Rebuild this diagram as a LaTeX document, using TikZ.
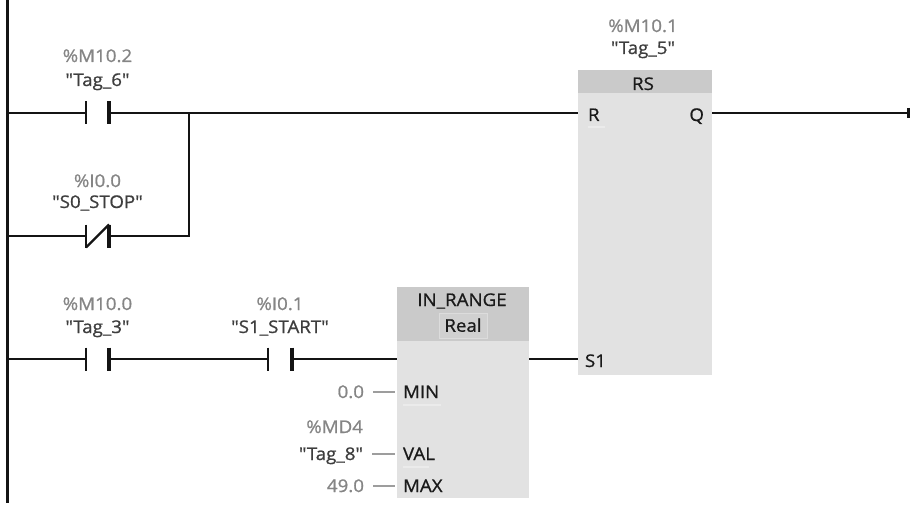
\documentclass[tikz,border=0pt]{standalone}
\usepackage{fontspec}
\newfontfamily\plcfont{Open Sans}[FakeBold=0.9, FakeStretch=1.07]
\usetikzlibrary{calc,positioning}

\definecolor{addrgray}{HTML}{858585}
\definecolor{taggray}{HTML}{3E3E3E}
\definecolor{pinblack}{HTML}{1A1A1A}
\definecolor{wireblack}{HTML}{141414}
\definecolor{fbbody}{HTML}{E2E2E2}
\definecolor{fbhead}{HTML}{CACACA}
\definecolor{realfill}{HTML}{D0D0D0}
\definecolor{realedge}{HTML}{DCDCDC}

\tikzset{
  rail/.style={line width=3, color=wireblack},
  wire/.style={line width=2.4, color=wireblack},
  plate/.style={line width=2.2, color=wireblack},
  contact/.style={minimum width=23, minimum height=23, inner sep=0, outer sep=0},
  fb/.style={fill=fbbody, anchor=north west, inner sep=0, outer sep=0},
  txt/.style={font=\plcfont\fontsize{17.5}{20}\selectfont, inner sep=0, outer sep=0},
  addr/.style={txt, text=addrgray, anchor=base},
  tag/.style={txt, text=taggray, anchor=base},
  pin/.style={txt, text=pinblack},
  param/.style={line width=1.4, color=addrgray!80},
  hint/.style={line width=1.5, color=white!92!black},
}

\begin{document}
\begin{tikzpicture}[x=1pt, y=-1pt]
			%%%%% START %%%%%
			\useasboundingbox[fill=white] (0,0) rectangle (912,505);
			
			\coordinate (railtop) at (7,0);
			\coordinate (railbot) at (7,503);
			\draw[rail] (railtop) -- (railbot);
			
			\coordinate (r1) at (7,113);
			\coordinate (r2) at (7,236);
			\coordinate (r3) at (7,359);
			
			%%%%% BLOCKS %%%%%
			\node[fb, minimum width=134, minimum height=305] (rs) at (578,70) {};
			\fill[fbhead] (rs.north west) rectangle ([yshift=-23]rs.north east);
			\node[fb, minimum width=132, minimum height=211] (inr) at (397,287) {};
			\fill[fbhead] (inr.north west) rectangle ([yshift=-54]inr.north east);
			
			\coordinate (rsR) at (rs.west |- r1);
			\coordinate (rsS) at (rs.west |- r3);
			\coordinate (rsQ) at (rs.east |- r1);
			\coordinate (inrEN) at (inr.west |- r3);
			\coordinate (inrOUT) at (inr.east |- r3);
			\coordinate (qend) at (908,113);
			
			%%%%% CONTACTS %%%%%
			\node[contact] (c1) at (97.5,113) {};
			\node[contact] (c2) at (97.5,236) {};
			\node[contact] (c3) at (97.5,359) {};
			\node[contact, minimum width=24] (c4) at (280,359) {};
			
			\foreach \c in {c1,c2,c3,c4} {
				\draw[plate] (\c.north west) -- (\c.south west);
				\draw[plate, line width=3.2] (\c.north east) -- (\c.south east);
			}
			\draw[plate] (c2.south west) -- (c2.north east);
			
			\coordinate (j1) at (189,113);
			\coordinate (j2) at (j1 |- r2);
			
			%%%%% WIRES %%%%%
			\draw[wire] (r1) -- (c1.west);
			\draw[wire] (c1.east) -- (rsR);
			\draw[wire] (r2) -- (c2.west);
			\draw[wire, line join=miter] (c2.east) -- (j2) -- (j1);
			\draw[wire] (r3) -- (c3.west);
			\draw[wire] (c3.east) -- (c4.west);
			\draw[wire] (c4.east) -- (inrEN);
			\draw[wire] (inrOUT) -- (rsS);
			\draw[wire, line width=2.1] (rsQ) -- (qend);
			\draw[line width=3, color=wireblack] ([yshift=5]qend) -- ([yshift=-5]qend);
			
			%%%%% LABELS %%%%%
			\node[addr] (c1addr) at (97.5,62) {\%M10.2};
			\node[tag] (c1tag) at (97.5,86) {"Tag\_6"};
			\node[addr] (c2addr) at (97.5,187) {\%I0.0};
			\node[tag] (c2tag) at (97.5,208) {"S0\_STOP"};
			\node[addr] (c3addr) at (97.5,310) {\%M10.0};
			\node[tag] (c3tag) at (97.5,333) {"Tag\_3"};
			\node[addr] (c4addr) at (280,310) {\%I0.1};
			\node[tag] (c4tag) at (280,333) {"S1\_START"};
			
			\node[addr] (rsaddr) at (643,32) {\%M10.1};
			\node[tag] (rstag) at (643,54) {"Tag\_5"};
			\node[pin, anchor=base] (rstitle) at (643,90) {RS};
			\node[pin, anchor=base west] (pR) at (588,121) {R};
			\node[pin, anchor=base east] (pQ) at (704,121) {Q};
			\node[pin, anchor=base west] (pS) at (585,367) {S1};
			\draw[hint] ([yshift=-6]pR.base west) -- ++(17,0);
			
			\node[pin, anchor=base] (inrtitle) at (462,306) {IN\_RANGE};
			\node[pin, fill=realfill, draw=realedge, line width=1, minimum width=48,
				minimum height=25, text height=12.5, text depth=0] (inrtype) at (463,325.5) {Real};
			\node[pin, anchor=base west] (pMIN) at (403,398) {MIN};
			\node[pin, anchor=base west] (pVAL) at (403,460) {VAL};
			\node[pin, anchor=base west] (pMAX) at (403,492) {MAX};
			\draw[hint] ([yshift=-7]pMIN.base west) -- ++(38,0);
			\draw[hint] ([yshift=-7]pVAL.base west) -- ++(26,0);
			
			\node[addr, anchor=base east] (vMIN) at (364,398) {0.0};
			\node[addr, anchor=base east] (vVALaddr) at (363,433) {\%MD4};
			\node[tag, anchor=base east] (vVAL) at (363,460) {"Tag\_8"};
			\node[addr, anchor=base east] (vMAX) at (364,492) {49.0};
			
			\draw[param] ([xshift=9, yshift=6]vMIN.base east) -- ([xshift=-8, yshift=6]pMIN.base west);
			\draw[param] ([xshift=9, yshift=6]vVAL.base east) -- ([xshift=-8, yshift=6]pVAL.base west);
			\draw[param] ([xshift=9, yshift=6]vMAX.base east) -- ([xshift=-8, yshift=6]pMAX.base west);
			
			%%%%% END %%%%%
\end{tikzpicture}
\end{document}
